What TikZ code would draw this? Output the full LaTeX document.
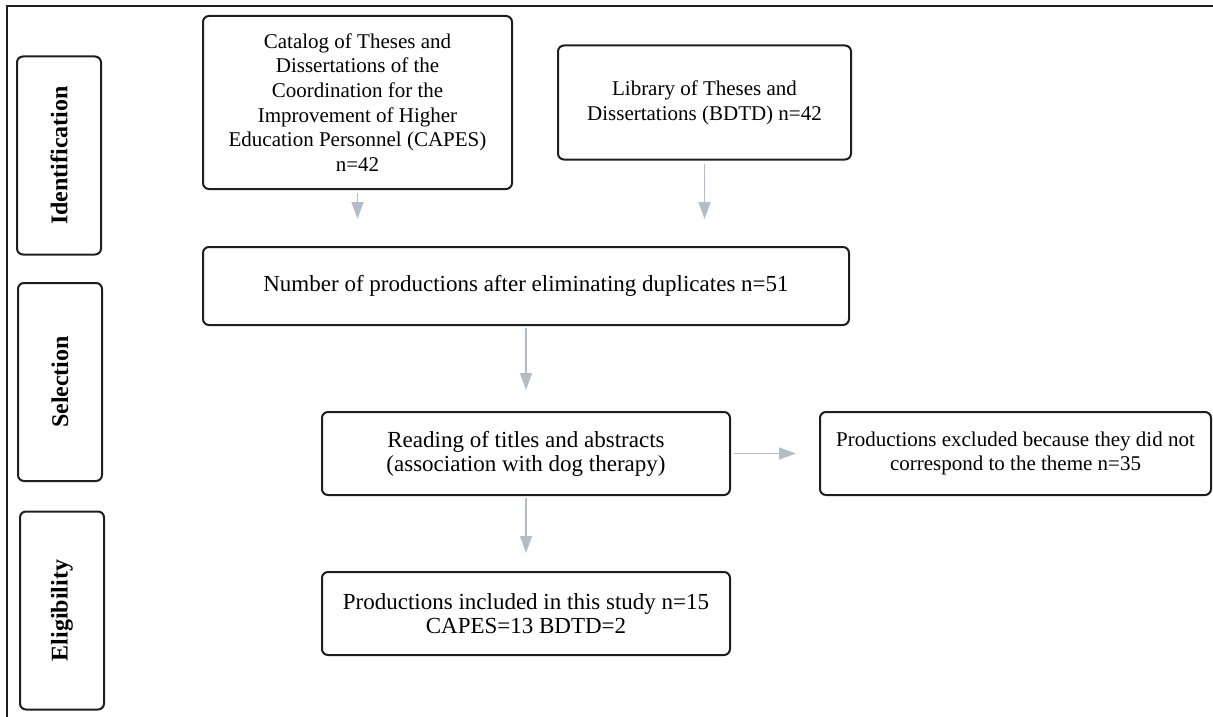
\documentclass[tikz,border=0pt]{standalone}
\usepackage{fontspec}
\setmainfont{Liberation Serif}
\usetikzlibrary{arrows.meta,positioning}
\definecolor{ink}{HTML}{1E1E1E}
\definecolor{arrowgray}{HTML}{B4BCC6}
\tikzset{
  >={Triangle[width=12pt,length=17pt]},
  box/.style={draw=ink,line width=2pt,rounded corners=6pt,align=center,inner sep=4pt},
  stage/.style={box,rotate=90,minimum width=198pt,minimum height=84pt,font=\fontsize{24}{28}\selectfont\bfseries},
  flow/.style={->,line width=1.5pt,draw=arrowgray},
}
\begin{document}
\begin{tikzpicture}[x=1pt,y=-1pt]
		\useasboundingbox (0,0) rectangle (1213,717);
		\draw[ink,line width=2pt] (7,717) -- (7,6) -- (1213,6);
		% stages
		\node[stage] (ident) at (59,155.5) {Identification};
		\node[stage] (select) at (60,382) {Selection};
		\node[stage] (elig) at (62,610.5) {Eligibility};
		% boxes
		\node[box,minimum width=309pt,minimum height=173pt,font=\fontsize{21}{24.7}\selectfont] (catalog) at (357.5,102.5)
			{Catalog of Theses and\\Dissertations of the\\Coordination for the\\Improvement of Higher\\Education Personnel (CAPES)\\n=42};
		\node[box,minimum width=293pt,minimum height=114pt,font=\fontsize{21}{24.7}\selectfont,right=44pt of catalog] (library)
			{Library of Theses and\\Dissertations (BDTD) n=42};
		\node[box,minimum width=646pt,minimum height=78pt,font=\fontsize{23}{24}\selectfont,below right=56pt and 0pt of catalog.south west] (number)
			{Number of productions after eliminating duplicates n=51};
		\node[box,minimum width=408pt,minimum height=83pt,font=\fontsize{23}{24}\selectfont,below=85pt of number] (reading)
			{Reading of titles and abstracts\\(association with dog therapy)};
		\node[box,minimum width=391pt,minimum height=83pt,font=\fontsize{21}{24}\selectfont,right=88pt of reading] (excluded)
			{Productions excluded because they did not\\correspond to the theme n=35};
		\node[box,minimum width=408pt,minimum height=83pt,font=\fontsize{23}{24}\selectfont,below=75pt of reading] (included)
			{Productions included in this study n=15\\CAPES=13 BDTD=2};
		% arrows
		\draw[flow,shorten <=3pt,shorten >=27pt] (catalog) -- (catalog |- number.north);
		\draw[flow,shorten <=3pt,shorten >=27pt] (library) -- (library |- number.north);
		\draw[flow,shorten <=2pt,shorten >=21pt] (number) -- (reading);
		\draw[flow,shorten <=3pt,shorten >=23pt] (reading) -- (excluded);
		\draw[flow,shorten <=2pt,shorten >=18pt] (reading) -- (included);
	\end{tikzpicture}
\end{document}
